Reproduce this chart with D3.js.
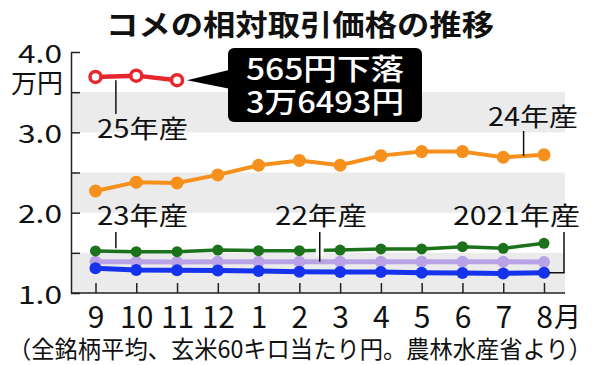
<!DOCTYPE html>
<html><head><meta charset="utf-8">
<script src="https://cdn.jsdelivr.net/npm/d3@7"></script>
<style>
html,body{margin:0;padding:0;background:#fff;}
svg{display:block;font-family:"Noto Sans CJK JP","Noto Sans",sans-serif;}
</style></head>
<body>
<svg id="c" width="600" height="365"></svg>
<script>
// ---- data ----
const months = ["9","10","11","12","1","2","3","4","5","6","7","8"];
const crop2025 = [3.6895, 3.7058, 3.6493];            // 25年産 (Sep–Nov)
const crop2024 = [2.27, 2.38, 2.37, 2.47, 2.59, 2.65, 2.59, 2.71, 2.76, 2.76, 2.69, 2.72];
const crop2023 = [1.523, 1.514, 1.514, 1.535, 1.527, 1.527, 1.535, 1.548, 1.548, 1.576, 1.556, 1.619];
const crop2022 = [1.39, 1.39, 1.385, 1.39, 1.39, 1.39, 1.39, 1.39, 1.39, 1.39, 1.39, 1.385];
const crop2021 = [1.307, 1.286, 1.284, 1.281, 1.274, 1.265, 1.26, 1.26, 1.253, 1.249, 1.244, 1.253];
const yTicks = [1, 1.5, 2, 2.5, 3, 3.5, 4];
const bands = [[1, 1.5], [2, 2.5], [3, 3.5]];
const titleText = "コメの相対取引価格の推移";
const unitText = "万円";
const noteLines = ["565円下落", "3万6493円"];
const footText = "（全銘柄平均、玄米60キロ当たり円。農林水産省より）";

const svg = d3.select("#c");
const left = 71, right = 565;
const x = d3.scalePoint().domain(months).range([95.5, 544]);
const y = d3.scaleLinear().domain([1, 4]).range([293, 52]);
const step = x.step();

// bands
svg.append("g").selectAll("rect").data(bands).join("rect")
  .attr("x", left).attr("width", right - left)
  .attr("y", d => y(d[1])).attr("height", d => y(d[0]) - y(d[1]))
  .attr("fill", "#ebebeb");

// title
svg.append("text").attr("x", 300).attr("y", 36).attr("text-anchor", "middle")
  .attr("font-size", 29).attr("font-weight", "bold").attr("fill", "#111")
  .attr("textLength", 388).attr("lengthAdjust", "spacingAndGlyphs").text(titleText);

// y axis
const ya = svg.append("g").attr("transform", `translate(${left},0)`)
  .call(d3.axisLeft(y).tickValues(yTicks).tickSize(-9).tickSizeOuter(0).tickPadding(9)
    .tickFormat(d => d % 1 === 0 ? d.toFixed(1) : ""));
ya.select(".domain").attr("stroke", "#222").attr("stroke-width", 1.5);
ya.selectAll(".tick line").attr("stroke", "#222").attr("stroke-width", 1.5);
ya.selectAll(".tick text").filter(d => d % 1 !== 0).remove();
ya.selectAll(".tick text").attr("font-size", 25).attr("fill", "#111").attr("dy", "0.4em")
  .attr("font-family", "'Noto Sans CJK JP',sans-serif")
  .attr("textLength", 44).attr("lengthAdjust", "spacingAndGlyphs");
svg.append("text").attr("x", 63).attr("y", 93).attr("text-anchor", "end")
  .attr("font-size", 26).attr("fill", "#111").text(unitText);

// x axis
svg.append("line").attr("x1", left).attr("x2", right).attr("y1", 293).attr("y2", 293)
  .attr("stroke", "#222").attr("stroke-width", 1.5);
const xa = svg.append("g").attr("transform", "translate(0,293)")
  .call(d3.axisBottom(x).tickSize(-10).tickPadding(35));
xa.select(".domain").remove();
xa.selectAll(".tick line").attr("stroke", "#222").attr("stroke-width", 1.5);
xa.selectAll(".tick text").attr("font-size", 30).attr("fill", "#111").attr("dy", "0")
  .attr("font-family", "'Noto Sans CJK JP',sans-serif");
svg.append("text").attr("x", x("8") + 10).attr("y", 327).attr("font-size", 27)
  .attr("fill", "#111").text("月");

// footer
svg.append("text").attr("x", 300).attr("y", 358).attr("text-anchor", "middle")
  .attr("font-size", 24).attr("fill", "#111")
  .attr("textLength", 584).attr("lengthAdjust", "spacingAndGlyphs").text(footText);

// series
const line = d3.line().x((d, i) => x(months[i])).y(d => y(d));
function series(vals, color, lw, r) {
  svg.append("path").datum(vals).attr("d", line).attr("fill", "none")
    .attr("stroke", color).attr("stroke-width", lw).attr("stroke-linejoin", "round");
  svg.append("g").selectAll("circle").data(vals).join("circle")
    .attr("cx", (d, i) => x(months[i])).attr("cy", d => y(d)).attr("r", r).attr("fill", color);
}
series(crop2022, "#b9a2e6", 5, 6);
series(crop2021, "#1532ec", 5, 6);
series(crop2023, "#1b721b", 3.5, 5.5);
// white gap in 23 line for 22 leader
const midX = i => x(months[i]) + step / 2;
svg.append("line").attr("x1", midX(5)).attr("x2", midX(5))
  .attr("y1", y((crop2023[5] + crop2023[6]) / 2) - 6).attr("y2", y((crop2023[5] + crop2023[6]) / 2) + 6)
  .attr("stroke", "#fff").attr("stroke-width", 8);
series(crop2024, "#f5901c", 4, 6.5);

// 25年産 red line with hollow markers
svg.append("path").datum(crop2025).attr("d", line).attr("fill", "none")
  .attr("stroke", "#e8262e").attr("stroke-width", 4.5);
svg.append("g").selectAll("circle").data(crop2025).join("circle")
  .attr("cx", (d, i) => x(months[i])).attr("cy", d => y(d)).attr("r", 5.5)
  .attr("fill", "#fff").attr("stroke", "#e8262e").attr("stroke-width", 3.5);

// leaders + labels
const ink = "#111";
function leader(pts) {
  svg.append("path").attr("d", d3.line()(pts)).attr("fill", "none")
    .attr("stroke", ink).attr("stroke-width", 1.5);
}
function label(txt, lx, by, w) {
  svg.append("text").attr("x", lx).attr("y", by).attr("font-size", 25).attr("fill", ink)
    .attr("textLength", w).attr("lengthAdjust", "spacingAndGlyphs").text(txt);
}
leader([[midX(0), y((crop2025[0] + crop2025[1]) / 2) + 4], [midX(0), 114]]);
label("25年産", 97, 138, 91);
leader([[midX(10), 131], [midX(10), y((crop2024[10] + crop2024[11]) / 2)]]);
label("24年産", 488, 126, 90);
leader([[midX(0), 232], [midX(0), y((crop2023[0] + crop2023[1]) / 2) - 3]]);
label("23年産", 97, 225, 91);
leader([[midX(5), 232], [midX(5), y((crop2022[5] + crop2022[6]) / 2)]]);
label("22年産", 275, 225, 92);
leader([[564, 232], [564, y(crop2021[11])], [x("8") + 5, y(crop2021[11])]]);
label("2021年産", 453, 225, 127);

// callout box
const cx = x(months[2]) + 8, cy = y(crop2025[2]);
svg.append("path").attr("d", d3.line()([[cx + 2, cy], [232, cy - 11], [232, cy + 9]]))
  .attr("fill", "#000");
svg.append("rect").attr("x", 228).attr("y", 48).attr("width", 194).attr("height", 74)
  .attr("rx", 6).attr("fill", "#000");
noteLines.forEach((t, i) => {
  svg.append("text").attr("x", 325).attr("y", 80 + i * 33).attr("text-anchor", "middle")
    .attr("font-size", 29).attr("font-weight", 500).attr("fill", "#fff")
    .attr("textLength", 158).attr("lengthAdjust", "spacingAndGlyphs").text(t);
});
</script>
</body></html>
